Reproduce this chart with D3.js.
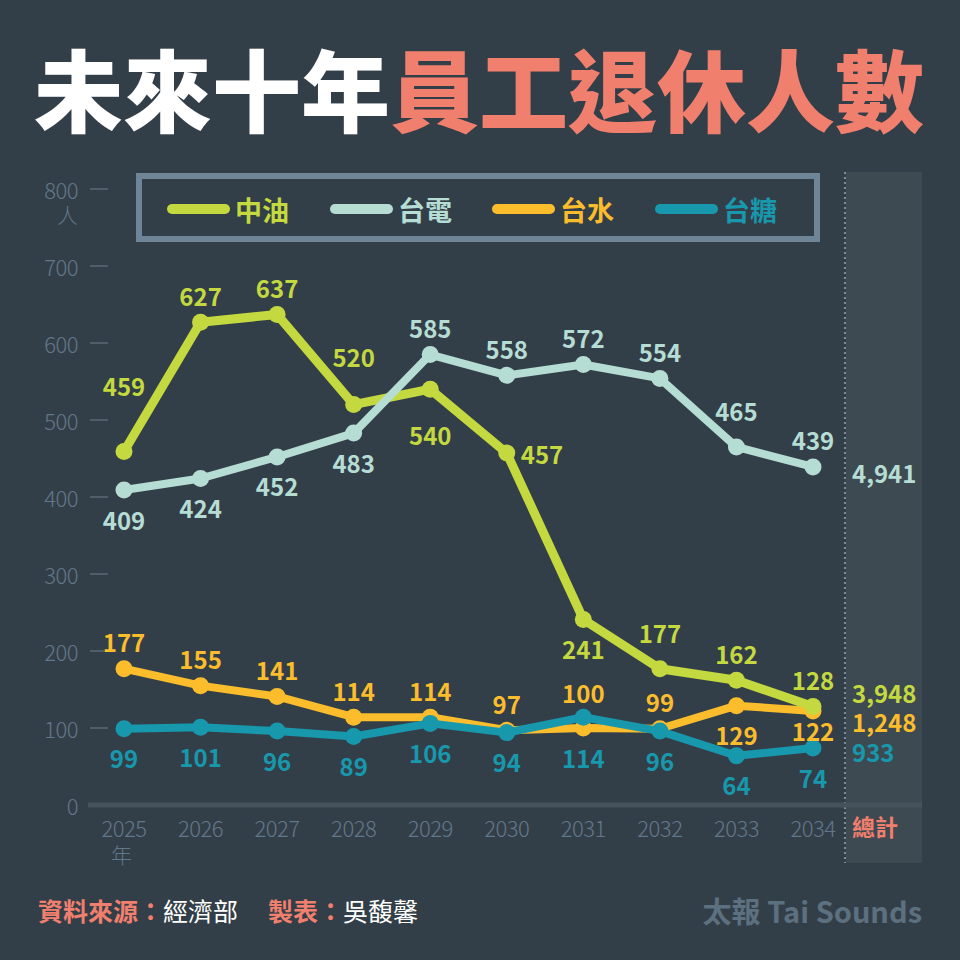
<!DOCTYPE html>
<html><head><meta charset="utf-8">
<script src="https://cdn.jsdelivr.net/npm/d3@7"></script>
<style>
html,body{margin:0;padding:0;background:#333f48;}
svg{display:block;}
text{font-family:"Noto Sans CJK TC","Noto Sans",sans-serif;}
</style></head>
<body>
<svg id="chart" width="960" height="960"></svg>
<script>
const years = ["2025","2026","2027","2028","2029","2030","2031","2032","2033","2034"];
const seriesNames = ["中油","台電","台水","台糖"];
const cpc = [459,627,637,520,540,457,241,177,162,128];
const taipower = [409,424,452,483,585,558,572,554,465,439];
const water = [177,155,141,114,114,97,100,99,129,122];
const sugar = [99,101,96,89,106,94,114,96,64,74];
const totals = ["3,948","4,941","1,248","933"];
const yTicks = [0,100,200,300,400,500,600,700,800];
// label placement codes (a: above, b: below, r: right)
const cpcPlace = ["AA","a","a","A","B","r","b","a2","a","a"];
const taipowerPlace = ["b","b","b","b","a","a","a","a","a2","a"];
const waterPlace = ["a","a","a","a","a","a","a2","a","b","b3"];
const sugarPlace = ["b","b","b","b","b","b","b2","b","b","b"];

const colors = ["#c3d93f","#b6ddd4","#fbbd2c","#1798ad"];
const values = [cpc,taipower,water,sugar];
const places = [cpcPlace,taipowerPlace,waterPlace,sugarPlace];
const strokeW = [9,8,8,8];
const dyMap = {a:-27,a2:-36,A:-48,AA:-66,b:29,b2:40,b3:19,B:45,r:0};
const totalY = [692,472,721,751];

const svg = d3.select("#chart");
const x = d3.scalePoint().domain(years).range([124,813]);
const y = d3.scaleLinear().domain([0,800]).range([805,189]);

// title
const title = svg.append("text").attr("x",479).attr("y",86)
  .attr("text-anchor","middle").attr("dominant-baseline","central")
  .attr("font-size",89).attr("font-weight",900);
title.append("tspan").attr("fill","#ffffff").text("未來十年");
title.append("tspan").attr("fill","#f17f6e").text("員工退休人數");

// total panel
svg.append("rect").attr("x",846).attr("y",172).attr("width",76).attr("height",691).attr("fill","#3e4a52");
svg.append("line").attr("x1",845).attr("x2",845).attr("y1",172).attr("y2",863)
  .attr("stroke","#7d8d99").attr("stroke-width",2).attr("stroke-dasharray","2,3");

// y axis ticks
const gy = svg.append("g");
yTicks.forEach(t=>{
  gy.append("text").attr("x",78).attr("y",y(t)).attr("text-anchor","end")
    .attr("dominant-baseline","central").attr("font-size",22).attr("font-weight",300)
    .attr("fill","#63778a").attr("letter-spacing","-0.5").text(t);
  if(t>0) gy.append("line").attr("x1",90).attr("x2",108).attr("y1",y(t)).attr("y2",y(t))
    .attr("stroke","#4f5e69").attr("stroke-width",2);
});
gy.append("text").attr("x",78).attr("y",y(800)+25).attr("text-anchor","end")
  .attr("dominant-baseline","central").attr("font-size",21).attr("font-weight",300)
  .attr("fill","#63778a").text("人");

// baseline
svg.append("line").attr("x1",88).attr("x2",922).attr("y1",805).attr("y2",805)
  .attr("stroke","#47535c").attr("stroke-width",5);

// x labels
years.forEach(yr=>{
  svg.append("text").attr("x",x(yr)).attr("y",827).attr("text-anchor","middle")
    .attr("dominant-baseline","central").attr("font-size",22).attr("font-weight",300)
    .attr("fill","#63778a").attr("letter-spacing","-0.5").text(yr);
});
svg.append("text").attr("x",x(years[0])-13).attr("y",854).attr("dominant-baseline","central")
  .attr("font-size",21).attr("font-weight",300).attr("fill","#63778a").text("年");
svg.append("text").attr("x",852).attr("y",826).attr("dominant-baseline","central")
  .attr("font-size",23).attr("font-weight",700).attr("fill","#f17f6e").text("總計");

// legend
svg.append("rect").attr("x",139).attr("y",176).attr("width",678).attr("height",63)
  .attr("fill","none").attr("stroke","#6d8597").attr("stroke-width",6);
const legX = [172,335,497,660];
seriesNames.forEach((n,i)=>{
  svg.append("line").attr("x1",legX[i]).attr("x2",legX[i]+53).attr("y1",209).attr("y2",209)
    .attr("stroke",colors[i]).attr("stroke-width",10).attr("stroke-linecap","round");
  svg.append("text").attr("x",legX[i]+63).attr("y",209).attr("dominant-baseline","central")
    .attr("font-size",27).attr("font-weight",700).attr("fill",colors[i]).text(n);
});

// lines: draw order bottom->top: water, sugar, cpc, taipower
const line = d3.line().x((d,i)=>x(years[i])).y(d=>y(d));
const order = [2,3,0,1];
order.forEach(s=>{
  const g = svg.append("g");
  g.append("path").attr("d",line(values[s])).attr("fill","none")
    .attr("stroke",colors[s]).attr("stroke-width",strokeW[s]).attr("stroke-linejoin","round");
  g.selectAll("circle").data(values[s]).join("circle")
    .attr("cx",(d,i)=>x(years[i])).attr("cy",d=>y(d)).attr("r",8.5).attr("fill",colors[s]);
});
// value labels
order.forEach(s=>{
  values[s].forEach((v,i)=>{
    const p = places[s][i];
    const isR = p==="r";
    svg.append("text").attr("x",x(years[i]) + (isR?14:0)).attr("y",y(v)+dyMap[p])
      .attr("text-anchor",isR?"start":"middle").attr("dominant-baseline","central")
      .attr("font-size",24).attr("font-weight",700).attr("fill",colors[s]).text(v);
  });
  svg.append("text").attr("x",852).attr("y",totalY[s]).attr("dominant-baseline","central")
    .attr("font-size",24).attr("font-weight",700).attr("fill",colors[s]).text(totals[s]);
});

// footer
const f1 = svg.append("text").attr("x",38).attr("y",910).attr("dominant-baseline","central")
  .attr("font-size",25);
f1.append("tspan").attr("fill","#f17f6e").attr("font-weight",700).text("資料來源：");
f1.append("tspan").attr("fill","#ffffff").attr("font-weight",400).text("經濟部");
const f2 = svg.append("text").attr("x",268).attr("y",910).attr("dominant-baseline","central")
  .attr("font-size",25);
f2.append("tspan").attr("fill","#f17f6e").attr("font-weight",700).text("製表：");
f2.append("tspan").attr("fill","#ffffff").attr("font-weight",400).text("吳馥馨");
svg.append("text").attr("x",922).attr("y",910).attr("text-anchor","end").attr("dominant-baseline","central")
  .attr("font-size",29).attr("font-weight",700).attr("fill","#5c7080").text("太報 Tai Sounds");
</script>
</body></html>
